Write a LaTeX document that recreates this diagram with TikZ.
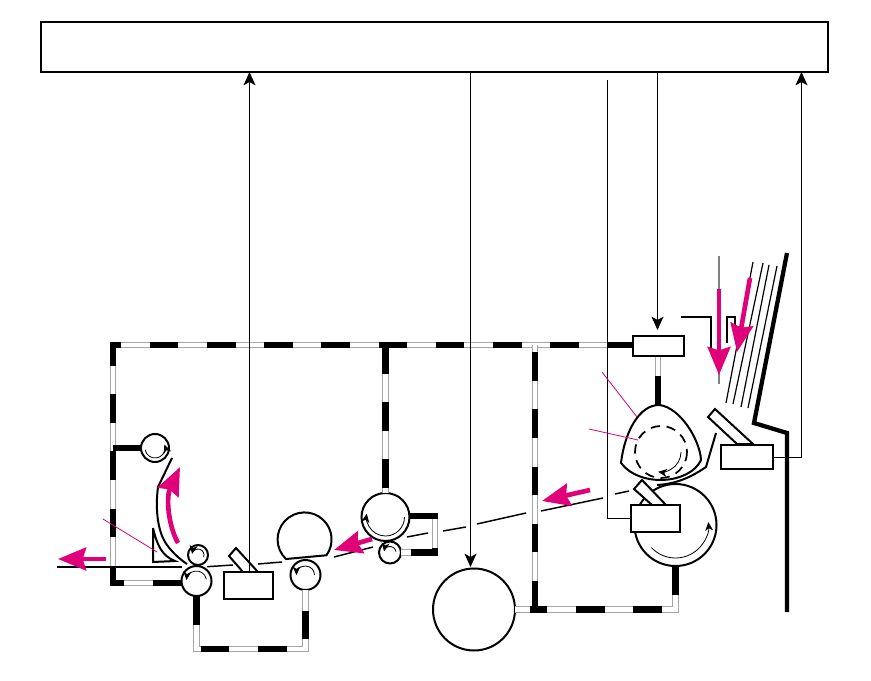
\documentclass[tikz,border=0pt]{standalone}
\usepackage{tikz}
\usetikzlibrary{arrows.meta}

\definecolor{pathpink}{RGB}{224,0,122}

\tikzset{
    unitbox/.style 2 args={draw, line width=1.5pt, fill=white, inner sep=0pt, outer sep=0pt,
        minimum width=#1*0.75pt, minimum height=#2*0.75pt},
    roller/.style={circle, draw, line width=1.5pt, fill=white, inner sep=0pt, outer sep=0pt,
        minimum size=#1*0.75pt},
    sigline/.style={line width=0.75pt, -{Stealth[length=10pt,width=9pt,inset=2.5pt]}},
    spinarrow/.style={line width=0.6pt, -{Stealth[length=6.5pt,width=6pt,inset=2pt]}},
    pinkarrow/.style={pathpink, line width=3.5pt, -{Stealth[length=21pt,width=17pt,inset=2.5pt]}},
    pinklead/.style={pathpink, line width=0.6pt},
    papermove/.style={line width=1.1pt},
    guideline/.style={line width=1.5pt},
    bladeshape/.style={draw, line width=1.5pt, fill=white},
    shaftrim/.style={line width=4.7pt, gray!70},
    shaftcore/.style={line width=3.4pt, white},
    shaftdash/.style={line width=4.7pt, black, dash pattern=on 21.45pt off 21.45pt}
}

% phase, path
\newcommand{\shaftlink}[2]{
    \draw[shaftrim] #2;
    \draw[shaftcore] #2;
    \draw[shaftdash, dash phase=#1] #2;
}

\begin{document}
\begin{tikzpicture}[x=0.75pt, y=-0.75pt]

    \useasboundingbox (0,0) rectangle (871,681);

    % Draw control unit
    \node[unitbox={787}{50}] (ctrl) at (434.5,47) {};

    % Named corners of the drive train
    \coordinate (railnw) at (113,345);
    \coordinate (railsw) at (113,583);
    \coordinate (midtop) at (385.5,345);
    \coordinate (rightfoot) at (535,609.5);
    \coordinate (righttop) at (535,345);

    % Draw rollers
    \node[roller=28] (pickup) at (155,448) {};
    \node[roller=20] (exitsmall) at (198,555) {};
    \node[roller=30] (exitbig) at (196.5,581) {};
    \node[roller=30] (pressure) at (305.5,575) {};
    \node[roller=48] (midbig) at (385.5,517) {};
    \node[roller=22] (midsmall) at (390,552.5) {};
    \node[roller=82] (drum) at (474,609.5) {};
    \node[roller=82] (feedroller) at (675.5,525) {};

    % Draw drive train
    \shaftlink{0pt}{(railsw -| exitbig.west) -- (railsw) -- (railnw) -- (633,345)}
    \shaftlink{0pt}{(midtop) -- (midbig.north)}
    \shaftlink{0pt}{(pickup.west) -- (113,448)}
    \shaftlink{0pt}{(midbig.east |- 0,516) -- (435,516) -- (435,552.5) -- (midsmall.east)}
    \shaftlink{0pt}{(exitbig.south) -- (196.5,649) -- (305.5,649) -- (pressure.south)}
    \shaftlink{21.45pt}{(drum.east) -- (rightfoot)}
    \shaftlink{0pt}{(feedroller.south) -- (675.5,609.5) -- (530,609.5)}
    \shaftlink{0pt}{(rightfoot) -- (righttop)}
    \shaftlink{0pt}{(658,405) -- (658,356)}

    % Draw paper path
    \foreach \xa/\ya/\xb/\yb in {57/567/182/567, 207/566.7/233/565, 258/564/282/562,
        334/557/373/547, 407/537/428/533, 443/531/466/527, 477/524/526/513,
        541/511/603/498, 615/494/629/491}
        \draw[papermove] (\xa,\ya) -- (\xb,\yb);

    % Draw exit guides
    \draw[guideline] (172,458) -- (158,487)
        .. controls (155,510) and (158,530) .. (165,542)
        .. controls (170,550) and (178,558) .. (187,564);
    \draw[guideline] (153,528) -- (153,562) -- (175,561)
        .. controls (162,556) and (157,545) .. (153,528);

    % Draw transfer roller with flat side
    \draw[line width=1.5pt, fill=white] (286,559) arc (133.5:396:27) -- cycle;

    % Draw fuser body
    \draw[line width=1.5pt, fill=white] (659,405)
        .. controls (680,407) and (700,440) .. (701,460)
        .. controls (690,484) and (640,488) .. (621,463)
        .. controls (625,430) and (640,405) .. (659,405);
    \draw[line width=1.3pt, dash pattern=on 7pt off 5pt] (661,452) circle (26);
    \draw[guideline] (716,433) -- (706,467)
        .. controls (690,478) and (675,484) .. (657,485);

    % Draw sensor blades and boxes
    \path[bladeshape] (229,556) -- (236,548) -- (258,572) -- (243,572) -- cycle;
    \path[bladeshape] (708,417) -- (715,409) -- (753,444) -- (737,444) -- cycle;
    \path[bladeshape] (634,489) -- (642,480) -- (666,505) -- (652,505) -- cycle;
    \node[unitbox={49}{27}] (exitbox) at (248.5,585.5) {};
    \node[unitbox={51}{20}] (feedbox) at (658.5,346) {};
    \node[unitbox={52}{24}] (sidebox) at (747,457) {};
    \node[unitbox={49}{27}] (laserbox) at (655.5,518.5) {};

    % Draw spin direction
    \draw[spinarrow] (pickup.center) ++(170:10) arc (170:-20:10);
    \draw[spinarrow] (exitsmall.center) ++(20:6) arc (20:-170:6);
    \draw[spinarrow] (exitbig.center) ++(-10:10) arc (-10:-175:10);
    \draw[spinarrow] (pressure.center) ++(0:9) arc (0:-180:9);
    \draw[spinarrow] (midbig.center) ++(0:19) arc (0:190:19);
    \draw[spinarrow] (midsmall.center) ++(-10:6) arc (-10:-170:6);
    \draw[spinarrow] (feedroller.center) ++(137:33) arc (137:-5:33);
    \draw[spinarrow] (661,452) ++(0:20) arc (0:98:20);

    % Draw paper stack and tray
    \foreach \xa/\ya/\xb/\yb in {753/262/726/403, 763/263/733/404, 769/265/741/407, 777/266/748/408}
        \draw[line width=0.9pt] (\xa,\ya) -- (\xb,\yb);
    \draw[line width=3.2pt] (787,253) -- (754,423) -- (787,433) -- (787,612);
    \draw[line width=1.8pt] (681,317) -- (711,317) -- (711,348);
    \draw[line width=1.8pt] (727,343) -- (727,317) -- (735,317) -- (735,325);

    % Draw signal lines
    \coordinate (exitin) at (249.5,72);
    \coordinate (rightin) at (801.5,72);
    \coordinate (drumin) at (470.5,567);
    \coordinate (feedin) at (657.5,330);
    \coordinate (laserfree) at (607.5,80);
    \draw[sigline] (exitin |- exitbox.north) -- (exitin);
    \draw[sigline] (drumin |- ctrl.south) -- (drumin);
    \draw[sigline] (feedin |- ctrl.south) -- (feedin);
    \draw[sigline] (sidebox.east) -| (rightin);
    \draw[line width=0.75pt] (laserfree) |- (laserbox.west);

    % Plot paper flow
    \draw[gray, line width=0.8pt] (719,256) -- (719,384);
    \draw[pinkarrow] (719,289) -- (719,375);
    \draw[pinkarrow] (750,278) -- (737,352);
    \draw[pinkarrow] (590,490) -- (542,501);
    \draw[pinkarrow] (372,539) -- (334,550);
    \draw[pinkarrow] (178,543) .. controls (168,525) and (166,497) .. (180,467);
    \draw[pinkarrow] (106,559) -- (58,559);

    % Plot leader lines
    \draw[pinklead] (103,519) -- (157,552);
    \draw[pinklead] (602,372) -- (637,417);
    \draw[pinklead] (589,429) -- (638,440);

\end{tikzpicture}
\end{document}
